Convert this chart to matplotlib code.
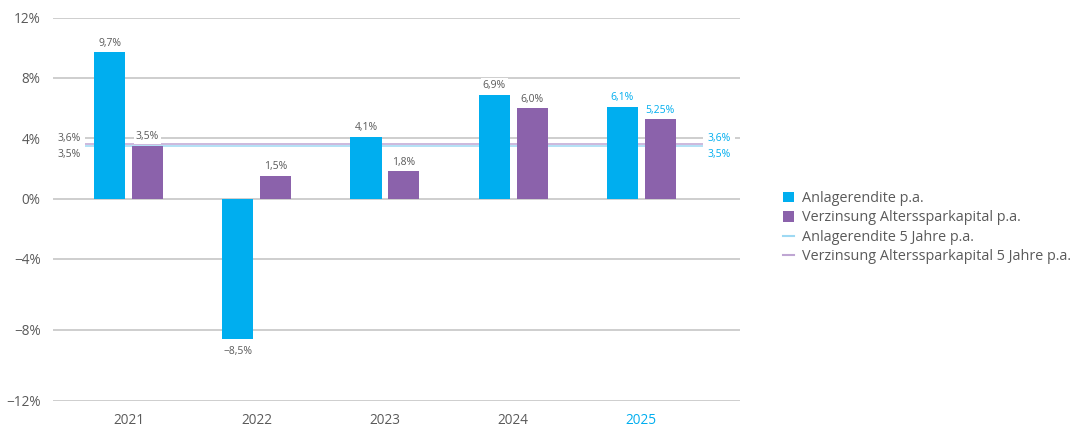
import numpy as np
import matplotlib
matplotlib.use("Agg")
import matplotlib.pyplot as plt
from matplotlib.patches import Patch
from matplotlib.lines import Line2D

plt.rcParams['font.family'] = ['Open Sans', 'DejaVu Sans']

years = ["2021", "2022", "2023", "2024", "2025"]
anlagerendite = [9.7, -8.5, 4.1, 6.9, 6.1]
verzinsung = [3.5, 1.5, 1.8, 6.0, 5.25]
anl_labels = ["9,7%", "\u22128,5%", "4,1%", "6,9%", "6,1%"]
verz_labels = ["3,5%", "1,5%", "1,8%", "6,0%", "5,25%"]
anl_5y = 3.5
verz_5y = 3.6
anl_5y_label = "3,5%"
verz_5y_label = "3,6%"
yticks = [-12, -8, -4, 0, 4, 8, 12]
ytick_labels = ["\u221212%", "\u22128%", "\u22124%", "0%", "4%", "8%", "12%"]
legend_labels = ["Anlagerendite p.a.", "Verzinsung Alterssparkapital p.a.",
                 "Anlagerendite 5 Jahre p.a.", "Verzinsung Alterssparkapital 5 Jahre p.a."]

BLUE = "#00AEEF"
PURPLE = "#8B62AB"
LBLUE = "#9ED9F3"
LPURPLE = "#BFA6D3"
GRID = "#C6C6C6"
TXT = "#5A5A5A"

# piecewise axis scale (negative section below -4% is stretched in the original)
POS_K = 15.125
NEG_K = 17.8
def fwd(v):
    v = np.asarray(v, dtype=float)
    return np.where(v >= -4, v * POS_K, -4 * POS_K + (v + 4) * NEG_K)
def inv(p):
    p = np.asarray(p, dtype=float)
    return np.where(p >= -4 * POS_K, p / POS_K, (p + 4 * POS_K) / NEG_K - 4)

fig = plt.figure(figsize=(10.76, 4.28), dpi=100)
ax = fig.add_axes([53 / 1076, 1 - 400.7 / 428, (740 - 53) / 1076, (400.7 - 17.7) / 428])
ax.set_yscale('function', functions=(fwd, inv))
ax.set_ylim(-12, 12)
x = np.arange(len(years))
ax.set_xlim(-0.59, 4.77)

w = 0.242
off = 0.148
ax.bar(x - off, anlagerendite, width=w, color=BLUE, zorder=3)
ax.bar(x + off, verzinsung, width=w, color=PURPLE, zorder=3)

ax.set_yticks(yticks)
ax.set_yticklabels(ytick_labels)
ax.yaxis.set_minor_locator(matplotlib.ticker.NullLocator())
ax.grid(axis='y', color=GRID, linewidth=1.2, zorder=0)
ax.set_xticks(x)
ax.set_xticklabels(years)
for s in ax.spines.values():
    s.set_visible(False)
ax.tick_params(axis='both', length=0, labelsize=9.8, colors=TXT)
ax.tick_params(axis='y', pad=9)
ax.tick_params(axis='x', pad=9)
ax.get_xticklabels()[-1].set_color(BLUE)

# 5-year lines
ax.plot([-0.345, 4.49], [verz_5y, verz_5y], color=LPURPLE, lw=1.1, zorder=2)
ax.plot([-0.345, 4.49], [anl_5y, anl_5y], color=LBLUE, lw=1.1, zorder=2)

bb = dict(facecolor='white', edgecolor='none', pad=1.5)
for i in range(len(years)):
    c = BLUE if i == len(years) - 1 else TXT
    v = anlagerendite[i]
    ax.annotate(anl_labels[i], (x[i] - off, v), xytext=(0, 2.5 if v >= 0 else -5),
                textcoords='offset points', ha='center', va='bottom' if v >= 0 else 'top',
                fontsize=7.5, color=c, bbox=bb, zorder=4)
    v = verzinsung[i]
    ax.annotate(verz_labels[i], (x[i] + off, v), xytext=(0, 2.5),
                textcoords='offset points', ha='center', va='bottom',
                fontsize=7.5, color=c, bbox=bb, zorder=4)

# 5-year labels
ax.text(-0.465, 4.0, verz_5y_label, ha='center', va='center', fontsize=7.5, color=TXT,
        bbox=dict(facecolor='white', edgecolor='none', pad=3), zorder=4)
ax.text(-0.465, 2.95, anl_5y_label, ha='center', va='center', fontsize=7.5, color=TXT, zorder=4)
ax.text(4.605, 4.0, verz_5y_label, ha='center', va='center', fontsize=7.5, color=BLUE,
        bbox=dict(facecolor='white', edgecolor='none', pad=3), zorder=4)
ax.text(4.605, 2.95, anl_5y_label, ha='center', va='center', fontsize=7.5, color=BLUE, zorder=4)

handles = [Patch(facecolor=BLUE, edgecolor='none'), Patch(facecolor=PURPLE, edgecolor='none'),
           Line2D([], [], color=LBLUE, lw=1.5), Line2D([], [], color=LPURPLE, lw=1.5)]
leg = fig.legend(handles, legend_labels, loc='upper left', bbox_to_anchor=(783 / 1076, 1 - 191 / 428),
                 frameon=False, fontsize=10.4, handlelength=0.75, handleheight=0.75,
                 handletextpad=0.55, labelspacing=0.3, borderaxespad=0, borderpad=0)
for t in leg.get_texts():
    t.set_color(TXT)

fig.savefig("out.png", dpi=100)
